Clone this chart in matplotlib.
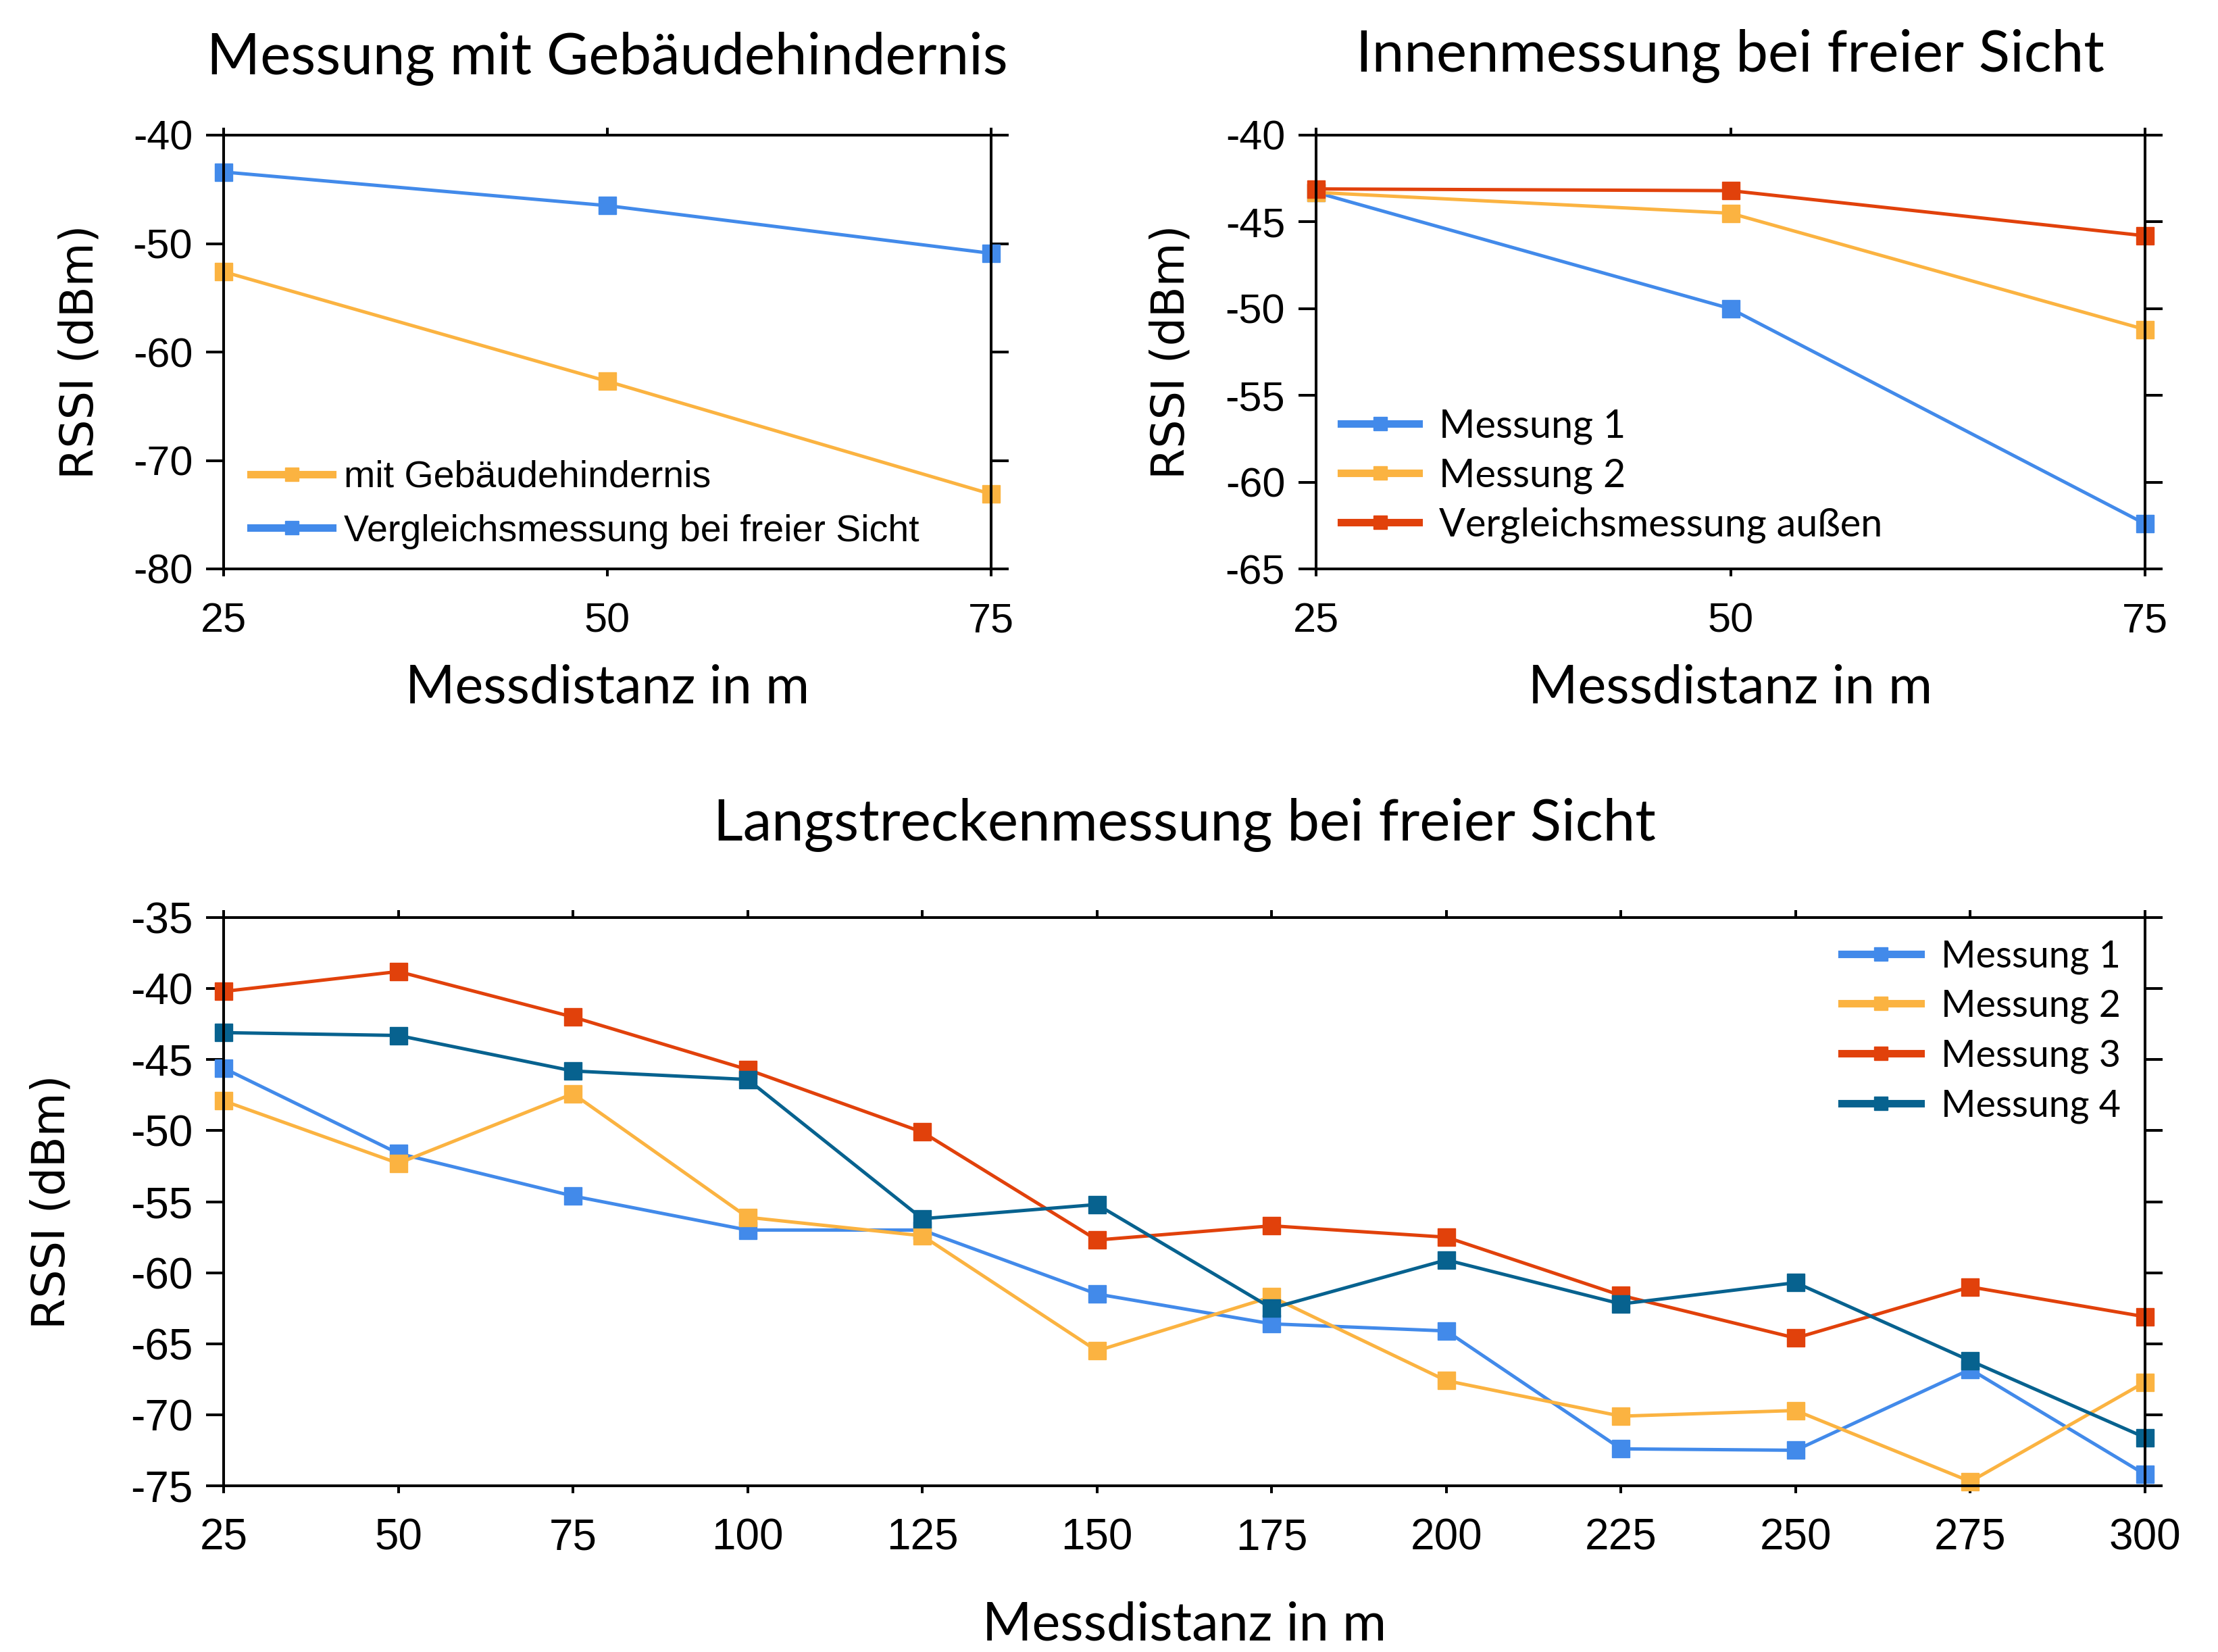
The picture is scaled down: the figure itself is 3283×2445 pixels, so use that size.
import matplotlib
matplotlib.use("Agg")
import matplotlib.pyplot as plt
from matplotlib import font_manager

# ---------------- data ----------------
tl_x = [25, 50, 75]
tl_obstacle = [-52.6, -62.7, -73.1]
tl_free = [-43.4, -46.5, -50.9]
tl_labels = ["mit Gebäudehindernis", "Vergleichsmessung bei freier Sicht"]
tl_yticks = [-40, -50, -60, -70, -80]

tr_x = [25, 50, 75]
tr_m1 = [-43.3, -50.0, -62.4]
tr_m2 = [-43.3, -44.5, -51.2]
tr_out = [-43.1, -43.2, -45.8]
tr_labels = ["Messung 1", "Messung 2", "Vergleichsmessung außen"]
tr_yticks = [-40, -45, -50, -55, -60, -65]

b_x = [25, 50, 75, 100, 125, 150, 175, 200, 225, 250, 275, 300]
b_m1 = [-45.6, -51.6, -54.6, -57.0, -57.0, -61.5, -63.6, -64.1, -72.4, -72.5, -66.8, -74.2]
b_m2 = [-47.9, -52.3, -47.4, -56.1, -57.4, -65.5, -61.7, -67.6, -70.1, -69.7, -74.7, -67.7]
b_m3 = [-40.2, -38.8, -42.0, -45.7, -50.1, -57.7, -56.7, -57.5, -61.6, -64.6, -61.0, -63.1]
b_m4 = [-43.1, -43.3, -45.8, -46.4, -56.2, -55.2, -62.5, -59.1, -62.2, -60.7, -66.2, -71.6]
b_labels = ["Messung 1", "Messung 2", "Messung 3", "Messung 4"]
b_yticks = [-35, -40, -45, -50, -55, -60, -65, -70, -75]

titles = ["Messung mit Gebäudehindernis", "Innenmessung bei freier Sicht",
          "Langstreckenmessung bei freier Sicht"]
xlabel = "Messdistanz in m"
ylabel = "RSSI (dBm)"

# ---------------- style ----------------
BLUE = "#428AEA"
ORANGE = "#FBB341"
RED = "#E1410B"
TEAL = "#07628F"

W, H = 3283, 2445
DPI = 100
fig = plt.figure(figsize=(W / DPI, H / DPI), dpi=DPI)
fig.patch.set_facecolor("white")

TITLE_FONT = ["Lato", "DejaVu Sans"]
TICK_FONT = ["Liberation Sans", "DejaVu Sans"]
YLAB_FONT = ["DejaVu Sans"]

_names = {f.name for f in font_manager.fontManager.ttflist}
if "Liberation Sans Narrow" in _names:
    BTICK_FONT = ["Liberation Sans Narrow", "Liberation Sans", "DejaVu Sans"]
    BTICK_SIZE = 52
else:
    BTICK_FONT = TICK_FONT
    BTICK_SIZE = 46

def px_axes(l, t, r, b):
    return fig.add_axes([l / W, 1 - b / H, (r - l) / W, (b - t) / H])

def fx(x):
    return x / W

def fy(y):
    return 1 - y / H

LW = 3.6
MS = 19
SPW = 2.9

def style_axes(ax, xticks, yticks, font, size, xpad):
    ax.set_xlim(xticks[0], xticks[-1])
    ax.set_ylim(yticks[-1], yticks[0])
    ax.set_xticks(xticks)
    ax.set_yticks(yticks)
    ax.set_yticklabels([str(v) for v in yticks])
    for s in ax.spines.values():
        s.set_linewidth(SPW)
        s.set_color("black")
    ax.tick_params(axis="x", which="major", direction="out", length=8, width=SPW,
                   top=True, bottom=True, labeltop=False, pad=xpad,
                   labelsize=size, color="black")
    ax.tick_params(axis="y", which="major", direction="out", length=19, width=SPW,
                   left=True, right=True, labelright=False, pad=14,
                   labelsize=size, color="black")
    for lab in ax.get_xticklabels() + ax.get_yticklabels():
        lab.set_fontfamily(font)

def plot_series(ax, x, y, color, label):
    ax.plot(x, y, color=color, lw=LW, marker="s", ms=MS, mec=color, mfc=color,
            clip_on=False, label=label, solid_joinstyle="miter")

def fix_legend(leg):
    for h in leg.legend_handles:
        h.set_linewidth(8)
        h.set_markersize(15)

# ---------------- top-left ----------------
ax1 = px_axes(331, 200, 1467, 842)
plot_series(ax1, tl_x, tl_obstacle, ORANGE, tl_labels[0])
plot_series(ax1, tl_x, tl_free, BLUE, tl_labels[1])
style_axes(ax1, tl_x, tl_yticks, TICK_FONT, 44, 28)
leg1 = ax1.legend(loc="upper left", bbox_to_anchor=(fx(371), fy(681)),
                  bbox_transform=fig.transFigure, frameon=False,
                  prop={"family": TICK_FONT, "size": 40},
                  borderpad=0, borderaxespad=0, handlelength=2.18,
                  handletextpad=0.3, labelspacing=0.5)
fix_legend(leg1)

# ---------------- top-right ----------------
ax2 = px_axes(1948, 200, 3175, 842)
plot_series(ax2, tr_x, tr_m1, BLUE, tr_labels[0])
plot_series(ax2, tr_x, tr_m2, ORANGE, tr_labels[1])
plot_series(ax2, tr_x, tr_out, RED, tr_labels[2])
style_axes(ax2, tr_x, tr_yticks, TICK_FONT, 44, 28)
leg2 = ax2.legend(loc="upper left", bbox_to_anchor=(fx(1985), fy(604)),
                  bbox_transform=fig.transFigure, frameon=False,
                  prop={"family": TITLE_FONT, "size": 41.5},
                  borderpad=0, borderaxespad=0, handlelength=2.0,
                  handletextpad=0.52, labelspacing=0.34)
fix_legend(leg2)

# ---------------- bottom ----------------
ax3 = px_axes(331, 1358, 3175, 2199)
plot_series(ax3, b_x, b_m1, BLUE, b_labels[0])
plot_series(ax3, b_x, b_m2, ORANGE, b_labels[1])
plot_series(ax3, b_x, b_m3, RED, b_labels[2])
plot_series(ax3, b_x, b_m4, TEAL, b_labels[3])
style_axes(ax3, b_x, b_yticks, BTICK_FONT, BTICK_SIZE, 26)
leg3 = ax3.legend(loc="upper left", bbox_to_anchor=(fx(2726), fy(1390)),
                  bbox_transform=fig.transFigure, frameon=False,
                  prop={"family": TITLE_FONT, "size": 40},
                  borderpad=0, borderaxespad=0, handlelength=2.1,
                  handletextpad=0.54, labelspacing=0.4)
fix_legend(leg3)

# ---------------- texts ----------------
fig.text(fx(899), fy(109), titles[0], ha="center", va="baseline",
         fontsize=61.5, family=TITLE_FONT)
fig.text(fx(2561), fy(105), titles[1], ha="center", va="baseline",
         fontsize=61.5, family=TITLE_FONT)
fig.text(fx(1753), fy(1243), titles[2], ha="center", va="baseline",
         fontsize=61.5, family=TITLE_FONT)

fig.text(fx(899), fy(1040), xlabel, ha="center", va="baseline",
         fontsize=57, family=TITLE_FONT)
fig.text(fx(2561), fy(1040), xlabel, ha="center", va="baseline",
         fontsize=57, family=TITLE_FONT)
fig.text(fx(1753), fy(2428), xlabel, ha="center", va="baseline",
         fontsize=57, family=TITLE_FONT)

fig.text(fx(119), fy(521), ylabel, ha="center", va="center", rotation=90,
         fontsize=48, family=YLAB_FONT)
fig.text(fx(1734), fy(521), ylabel, ha="center", va="center", rotation=90,
         fontsize=48, family=YLAB_FONT)
fig.text(fx(77), fy(1779), ylabel, ha="center", va="center", rotation=90,
         fontsize=48, family=YLAB_FONT)

fig.savefig("out.png", dpi=DPI, facecolor="white")
